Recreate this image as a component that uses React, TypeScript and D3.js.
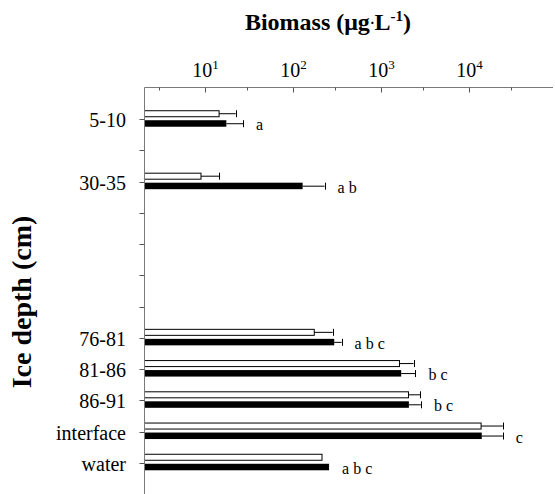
import React from "react";
import * as d3 from "d3";

const categories = ["5-10", "", "30-35", "", "", "", "", "76-81", "81-86", "86-91", "interface", "water"];
const openValues = [14.3, null, 8.9, null, null, null, null, 173, 1614, 2042, 13680, 212];
const openErrors = [7.8, null, 5.5, null, null, null, null, 107, 715, 731, 10470, 0];
const filledValues = [17.3, null, 127.6, null, null, null, null, 292, 1687, 2064, 13930, 255];
const filledErrors = [9.5, null, 99, null, null, null, null, 62, 767, 762, 10220, 0];
const letters = ["a", "", "a b", "", "", "", "", "a b c", "b c", "b c", "c", "a b c"];
const majorTicks = [10, 100, 1000, 10000];
const tickExponents = ["1", "2", "3", "4"];
const minorTicks = [3, 30, 300, 3000, 30000];

const W = 555;
const H = 494;
const FONT = "Liberation Serif, Times New Roman, Times, serif";

export default function App() {
  const x = d3.scaleLog().domain([2, 90000]).range([144, 553]);
  const ids = categories.map((_, i) => String(i));
  const y = d3.scalePoint<string>().domain(ids).range([88, 494]).padding(1);
  const axisTop = 87.5;
  const axisLeft = 144.5;
  const barH = 6;
  const axisColor = "#7a7a7a";
  const fs = { fontFamily: FONT };

  return (
    <svg width={W} height={H} style={{ position: "absolute", left: 0, top: 0, fontFamily: FONT }}>
      <rect x={0} y={0} width={W} height={H} fill="#fff" />
      {/* title */}
      <text x={328} y={30} textAnchor="middle" fontSize={24} fontWeight="bold" style={fs}>
        Biomass (μg<tspan fontSize={14} dy={-2}>·</tspan><tspan dy={2}>L</tspan>
        <tspan fontSize={15} dy={-9}>-1</tspan>
        <tspan dy={9}>)</tspan>
      </text>
      <text
        transform={`translate(31,${302}) rotate(-90)`}
        textAnchor="middle"
        fontSize={28}
        fontWeight="bold"
        style={fs}
      >
        Ice depth (cm)
      </text>

      {/* bars */}
      {ids.map((id, i) => {
        const c = y(id)!;
        const ov = openValues[i];
        const fv = filledValues[i];
        const items: React.ReactNode[] = [];
        if (ov != null) {
          const xe = x(ov);
          items.push(
            <rect key="o" x={axisLeft} y={c - 8.5} width={xe - axisLeft} height={barH} fill="#fff" stroke="#000" strokeWidth={1} />
          );
          const er = openErrors[i] || 0;
          if (er > 0) {
            const xr = x(ov + er);
            const cy = c - 5.5;
            items.push(
              <g key="oe" stroke="#000" strokeWidth={1}>
                <line x1={xe} x2={xr} y1={cy} y2={cy} />
                <line x1={Math.round(xr) + 0.5} x2={Math.round(xr) + 0.5} y1={cy - 3.5} y2={cy + 3.5} />
              </g>
            );
          }
        }
        if (fv != null) {
          const xe = x(fv);
          items.push(<rect key="f" x={axisLeft} y={c + 1} width={xe - axisLeft} height={barH + 0.5} fill="#000" />);
          const er = filledErrors[i] || 0;
          if (er > 0) {
            const xr = x(fv + er);
            const cy = c + 4.5;
            items.push(
              <g key="fe" stroke="#000" strokeWidth={1}>
                <line x1={xe} x2={xr} y1={cy} y2={cy} />
                <line x1={Math.round(xr) + 0.5} x2={Math.round(xr) + 0.5} y1={cy - 3.5} y2={cy + 3.5} />
              </g>
            );
          }
        }
        if (letters[i]) {
          const ends = [
            ov != null ? ov + (openErrors[i] || 0) : 0,
            fv != null ? fv + (filledErrors[i] || 0) : 0,
          ];
          const mx = x(Math.max(...ends));
          items.push(
            <text key="l" x={mx + 13} y={c + 11} fontSize={16} style={fs}>
              {letters[i]}
            </text>
          );
        }
        return <g key={id}>{items}</g>;
      })}

      {/* top axis */}
      <line x1={axisLeft} x2={x.range()[1]} y1={axisTop} y2={axisTop} stroke={axisColor} strokeWidth={1} />
      {majorTicks.map((t, i) => {
        const xt = Math.round(x(t)) + 0.5;
        return (
          <g key={"M" + t}>
            <line x1={xt} x2={xt} y1={axisTop} y2={axisTop + 5} stroke="#555" strokeWidth={1} />
            <text x={xt} y={77} textAnchor="middle" fontSize={20} style={fs}>
              10<tspan fontSize={13} dy={-8}>{tickExponents[i]}</tspan>
            </text>
          </g>
        );
      })}
      {minorTicks.map((t) => {
        const xt = Math.round(x(t)) + 0.5;
        return <line key={"m" + t} x1={xt} x2={xt} y1={axisTop} y2={axisTop + 3} stroke="#555" strokeWidth={1} />;
      })}

      {/* left axis */}
      <line x1={axisLeft} x2={axisLeft} y1={axisTop} y2={494} stroke={axisColor} strokeWidth={1} />
      {ids.map((id, i) => {
        const c = Math.round(y(id)!) + 0.5;
        return (
          <g key={"y" + id}>
            <line x1={axisLeft - 5} x2={axisLeft} y1={c} y2={c} stroke="#555" strokeWidth={1} />
            {categories[i] && (
              <text x={126} y={c + 7} textAnchor="end" fontSize={20} style={fs}>
                {categories[i]}
              </text>
            )}
          </g>
        );
      })}
    </svg>
  );
}
